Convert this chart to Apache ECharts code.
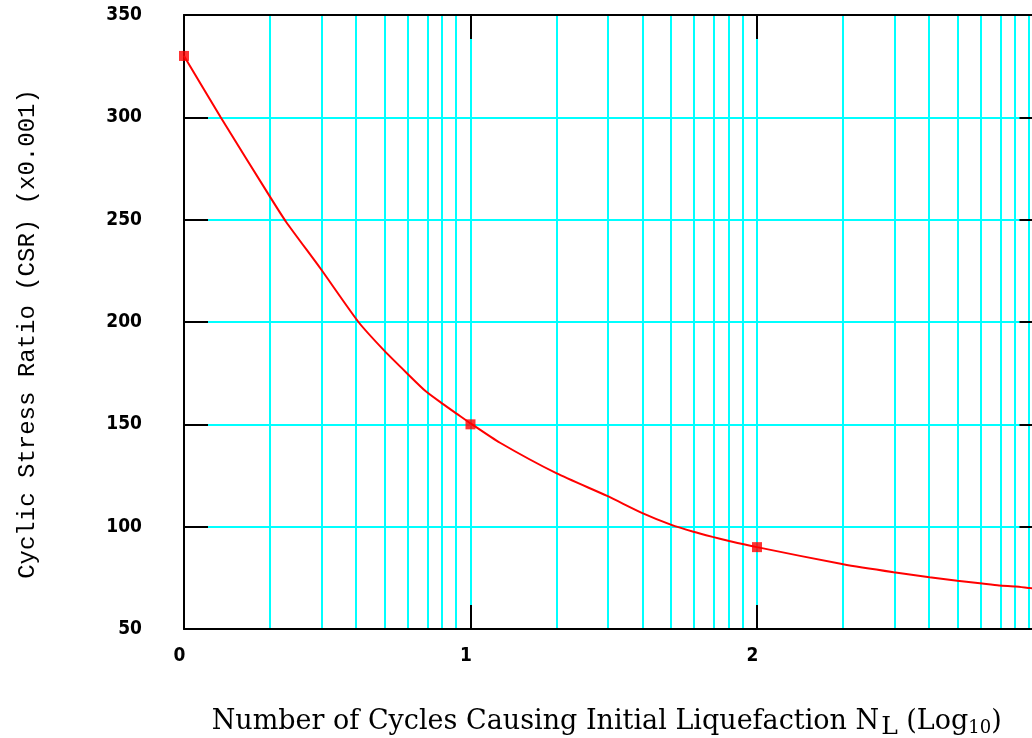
<!DOCTYPE html>
<html><head><meta charset="utf-8">
<script src="https://cdn.jsdelivr.net/npm/echarts@6/dist/echarts.min.js"></script>
<style>html,body{margin:0;padding:0;background:#fff}#c{width:1032px;height:738px}</style>
</head><body><div id="c"></div>
<script>
// ---- data ----
const xTickValues = [0, 1, 2, 3];
const yTickValues = [50, 100, 150, 200, 250, 300, 350];
const decadeStarts = [0, 1, 2];
const minorMultipliers = [2, 3, 4, 5, 6, 7, 8, 9];
const curveLogN = [0, 0.128, 0.301, 0.356, 0.477, 0.609, 0.699, 0.778, 0.845, 0.903, 0.954, 1,
  1.103, 1.301, 1.477, 1.602, 1.699, 1.778, 1.845, 1.903, 2,
  2.301, 2.477, 2.602, 2.699, 2.778, 2.845, 2.903, 2.954, 3];
const curveCSR = [330, 300, 261, 249, 226, 200, 186, 175, 166, 160, 155, 150.5,
  141, 126, 115, 106.5, 101, 97.5, 95, 93, 90,
  81.6, 77.7, 75.3, 73.6, 72.4, 71.3, 70.8, 70, 69.4];
const pointLogN = [0, 1, 2];
const pointCSR = [330, 150, 90];
const xTitleMain = 'Number of Cycles Causing Initial Liquefaction N';
const xTitleSubL = 'L';
const xTitleLog = ' (Log';
const xTitleSub10 = '10';
const yTitle = 'Cyclic Stress Ratio (CSR) (x0.001)';

// ---- grid line positions derived from ticks ----
const vLines = [];
decadeStarts.forEach(d => {
  if (d > 0) vLines.push(d);
  minorMultipliers.forEach(m => vLines.push(d + Math.log10(m)));
});
const hLines = yTickValues.slice(1, -1);

const tickFont = "'Liberation Sans Narrow', 'DejaVu Sans Condensed', sans-serif";
const chart = echarts.init(document.getElementById('c'), null, {renderer: 'canvas'});
const axisLineStyle = {color: '#000', width: 2};
const tickStyle = {show: true, inside: true, length: 24, lineStyle: {color: '#000', width: 2}};
const labelStyle = {color: '#000', fontFamily: tickFont, fontSize: 19, fontWeight: 'bold'};

chart.setOption({
  animation: false,
  backgroundColor: '#ffffff',
  grid: {left: 184, top: 15, width: 859.5, height: 614, containLabel: false, outerBoundsMode: 'none'},
  xAxis: [{
    type: 'value', position: 'bottom', min: 0, max: 3, interval: 1, z: 3,
    axisLine: {show: true, onZero: false, lineStyle: axisLineStyle},
    axisTick: tickStyle,
    axisLabel: Object.assign({margin: 18, showMaxLabel: true, padding: [0, 9, 0, 0]}, labelStyle),
    splitLine: {show: false},
    name: '{m|' + xTitleMain + '}{s|' + xTitleSubL + '}{m|' + xTitleLog + '}{t|' + xTitleSub10 + '}{m|)}',
    nameLocation: 'middle', nameGap: 74,
    nameTextStyle: {
      color: '#000',
      padding: [0, 14, 0, 0],
      rich: {
        m: {fontFamily: "'DejaVu Serif', serif", fontSize: 27, color: '#000'},
        s: {fontFamily: "'DejaVu Serif', serif", fontSize: 25, color: '#000', padding: [12, 0, 0, 2]},
        t: {fontFamily: "'DejaVu Serif', serif", fontSize: 18, color: '#000', padding: [14, 0, 0, 0]}
      }
    }
  }, {
    type: 'value', position: 'top', min: 0, max: 3, interval: 1, z: 3,
    axisLine: {show: true, onZero: false, lineStyle: axisLineStyle},
    axisTick: tickStyle,
    axisLabel: {show: false},
    splitLine: {show: false}
  }],
  yAxis: [{
    type: 'value', position: 'left', min: 50, max: 350, interval: 50, z: 3,
    axisLine: {show: true, onZero: false, lineStyle: axisLineStyle},
    axisTick: tickStyle,
    axisLabel: Object.assign({margin: 42, padding: [6, 0, 0, 0]}, labelStyle),
    splitLine: {show: false},
    name: yTitle, nameLocation: 'middle', nameGap: 144, nameRotate: 90,
    nameTextStyle: {color: '#000', fontFamily: "'Liberation Mono', 'DejaVu Sans Mono', monospace", fontSize: 24,
      padding: [0, 24, 0, 0]}
  }, {
    type: 'value', position: 'right', min: 50, max: 350, interval: 50, z: 3,
    axisLine: {show: true, onZero: false, lineStyle: axisLineStyle},
    axisTick: tickStyle,
    axisLabel: {show: false},
    splitLine: {show: false}
  }],
  series: [{
    type: 'line', name: 'gridlines', data: [], z: 1, silent: true,
    markLine: {
      z: 1,
      silent: true, symbol: ['none', 'none'], animation: false,
      label: {show: false},
      emphasis: {disabled: true},
      lineStyle: {color: '#00ffff', width: 2, type: 'solid'},
      data: vLines.map(v => ({xAxis: v})).concat(hLines.map(v => ({yAxis: v})))
    }
  }, {
    type: 'line', name: 'CSR curve', z: 5, smooth: 0.2, showSymbol: false,
    lineStyle: {color: '#ff0000', width: 2},
    data: curveLogN.map((x, i) => [x, curveCSR[i]])
  }, {
    type: 'scatter', name: 'points', z: 6, symbol: 'rect', symbolSize: 10,
    itemStyle: {color: '#ff0000'},
    data: pointLogN.map((x, i) => [x, pointCSR[i]])
  }]
});
</script>
</body></html>
